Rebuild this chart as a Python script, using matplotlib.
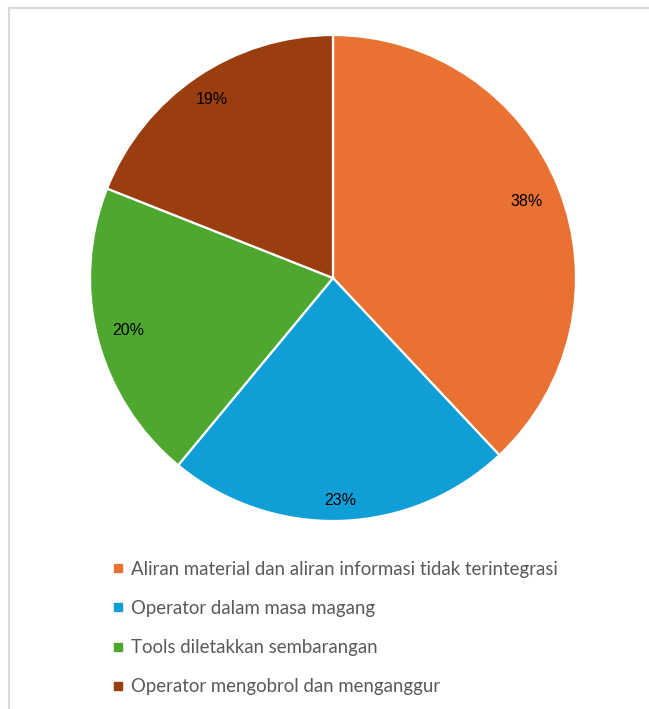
import numpy as np
import matplotlib.pyplot as plt
from matplotlib.lines import Line2D
from matplotlib.patches import Rectangle

labels = ["Aliran material dan aliran informasi tidak terintegrasi",
          "Operator dalam masa magang",
          "Tools diletakkan sembarangan",
          "Operator mengobrol dan menganggur"]
values = [38, 23, 20, 19]
colors = ["#E97132", "#0F9ED5", "#4EA72E", "#9A3E10"]

W, H = 649, 709
fig = plt.figure(figsize=(W / 100, H / 100), dpi=100)

# chart border (light gray, right/bottom run past the image edge)
fig.add_artist(Rectangle((8.5 / W, -0.05), 1.2, 1 - 7.5 / H + 0.05,
                         transform=fig.transFigure, fill=False,
                         edgecolor="#D9D9D9", linewidth=1.5))

cx, cy, r = 333, 278, 243
ax = fig.add_axes([(cx - r) / W, (H - cy - r) / H, 2 * r / W, 2 * r / H])
wedges, texts, autotexts = ax.pie(values, colors=colors, startangle=90,
                                  counterclock=False, radius=1,
                                  autopct="%d%%", pctdistance=0.87,
                                  wedgeprops=dict(edgecolor="white", linewidth=1.6),
                                  textprops=dict(fontsize=11.5, color="black",
                                                 family="Liberation Sans"))
# excel-like "inside end" placement, a bit different per slice
label_dist = [0.855, 0.915, 0.87, 0.89]
for w, t, d in zip(wedges, autotexts, label_dist):
    mid = np.deg2rad((w.theta1 + w.theta2) / 2)
    t.set_position((d * np.cos(mid), d * np.sin(mid)))

ax.set_xlim(-1, 1)
ax.set_ylim(-1, 1)
ax.axis("off")

handles = [Line2D([], [], marker="s", linestyle="none", markersize=6,
                  markerfacecolor=c, markeredgecolor=c) for c in colors]
leg = fig.legend(handles, labels, loc="upper left",
                 bbox_to_anchor=(94 / W, 1 - 544 / H),
                 frameon=False, handlelength=0.8, handletextpad=0.3,
                 labelspacing=1.19, prop=dict(family="Lato", size=13.4))
for t in leg.get_texts():
    t.set_color("#595959")

fig.savefig("out.png", dpi=100)
